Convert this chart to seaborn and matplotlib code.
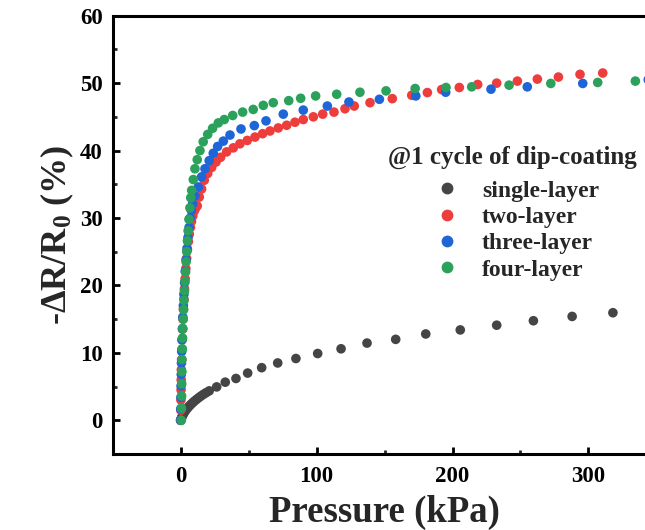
import numpy as np
import pandas as pd
import matplotlib
matplotlib.use("Agg")
import matplotlib.pyplot as plt
import seaborn as sns
from matplotlib.ticker import MultipleLocator

# ---------------- data ----------------
single_x = [0, 0.3, 0.7, 1.2, 1.8, 2.5, 3.3, 4.2, 5.2, 6.3, 7.5, 8.8, 10.2, 11.7, 13.3,
            15.0, 16.8, 18.8, 21.0, 26.5, 32.8, 40.7, 49.3, 59.6, 71.4, 84.8, 100.8,
            118.0, 137.1, 158.2, 180.3, 205.7, 232.5, 259.5, 288.0, 318.0]
single_y = [0, 0.15, 0.35, 0.6, 0.85, 1.1, 1.35, 1.6, 1.85, 2.1, 2.35, 2.6, 2.85, 3.1, 3.35,
            3.6, 3.85, 4.1, 4.36, 4.95, 5.65, 6.2, 7.0, 7.8, 8.5, 9.16, 9.9,
            10.6, 11.45, 12.0, 12.8, 13.4, 14.1, 14.76, 15.4, 15.95]

two_x = [0, 0.1, 0.2, 0.3, 0.4, 0.5, 0.7, 0.9, 1.1, 1.4, 1.7, 2.0, 2.4, 2.8, 3.3, 3.8,
         4.4, 5.0, 5.7, 6.4, 7.2, 8.0, 8.9, 9.9, 10.9, 12.2, 13.7, 15.4, 17.4, 19.9,
         22.8, 26.0, 29.4, 33.8, 38.7, 43.6, 49.0, 54.7, 60.3, 65.7, 71.8, 78.0, 84.1,
         90.2, 97.6, 104.5, 112.8, 120.9, 127.7, 139.3, 155.7, 170.0, 181.5, 192.0,
         205.0, 218.5, 232.5, 247.7, 262.4, 277.9, 293.8, 310.5]
two_y = [0, 1.5, 3.0, 4.5, 6.0, 7.5, 9.0, 10.5, 12.0, 13.5, 15.0, 16.5, 18.0, 19.5, 21.0, 22.5,
         24.0, 25.3, 26.5, 27.6, 28.6, 29.5, 30.3, 31.0, 31.4, 31.8, 33.1, 34.3, 35.6, 36.6,
         37.5, 38.3, 39.0, 39.8, 40.4, 41.0, 41.5, 42.0, 42.5, 42.9, 43.35, 43.75, 44.2,
         44.6, 45.0, 45.4, 45.7, 46.2, 46.6, 47.1, 47.7, 48.2, 48.6, 49.05,
         49.35, 49.8, 50.0, 50.3, 50.6, 50.9, 51.3, 51.5]

three_x = [0, 0.1, 0.2, 0.3, 0.45, 0.6, 0.8, 1.0, 1.3, 1.6, 2.0, 2.4, 2.9, 3.4, 4.0, 4.7,
           5.4, 6.2, 7.0, 7.9, 8.8, 10.5, 13.0, 15.4, 17.9, 21.0, 24.0, 27.2, 31.4, 36.3,
           44.4, 54.2, 62.8, 75.5, 90.2, 107.9, 123.8, 146.2, 173.0, 195.0, 228.3, 255.0,
           295.8, 344.0]
three_y = [0, 1.7, 3.4, 5.1, 6.8, 8.5, 10.2, 11.9, 13.6, 15.3, 17.0, 18.7, 20.4, 22.1, 23.8, 25.5,
           27.1, 28.6, 30.0, 31.1, 32.1, 33.3, 34.6, 36.1, 37.3, 38.5, 39.6, 40.6, 41.4, 42.3,
           43.2, 43.7, 44.4, 45.4, 46.0, 46.6, 47.2, 47.6, 48.1, 48.65, 49.1, 49.45,
           49.95, 50.5]

four_x = [0.5, 0.6, 0.7, 0.8, 0.9, 1.0, 1.2, 1.4, 1.6, 1.9, 2.2, 2.5, 2.8, 3.2, 3.6, 4.0,
          4.5, 5.0, 5.5, 6.1, 6.8, 7.4, 8.1, 9.3, 10.5, 12.2, 14.2, 16.6, 19.9, 23.5, 27.7,
          32.1, 38.3, 45.6, 53.4, 60.8, 68.1, 79.5, 88.3, 99.3, 114.8, 131.9, 151.1,
          172.5, 195.2, 214.1, 241.6, 272.3, 306.8, 334.5]
four_y = [0, 1.8, 3.6, 5.4, 7.2, 9.0, 10.6, 12.2, 13.6, 15.0, 16.4, 17.8, 19.2, 20.6, 22.0, 23.5,
          25.0, 26.6, 28.1, 29.8, 31.5, 33.0, 34.1, 35.7, 37.3, 38.65, 40.0, 41.3, 42.4, 43.3, 44.1,
          44.6, 45.2, 45.7, 46.1, 46.7, 47.1, 47.4, 47.75, 48.1, 48.35, 48.65, 48.85,
          49.2, 49.35, 49.45, 49.7, 49.95, 50.1, 50.3]

labels = ["single-layer", "two-layer", "three-layer", "four-layer"]
colors = ["#454545", "#EE3D3D", "#1E66D8", "#2BA15C"]
legend_title = "@1 cycle of dip-coating"
x_ticks = [0, 100, 200, 300]
y_ticks = [0, 10, 20, 30, 40, 50, 60]

df = pd.concat([
    pd.DataFrame({"x": single_x, "y": single_y, "layer": labels[0]}),
    pd.DataFrame({"x": two_x, "y": two_y, "layer": labels[1]}),
    pd.DataFrame({"x": three_x, "y": three_y, "layer": labels[2]}),
    pd.DataFrame({"x": four_x, "y": four_y, "layer": labels[3]}),
], ignore_index=True)

# ---------------- style ----------------
sns.set_theme(style="ticks")
plt.rcParams["font.family"] = ["Liberation Serif", "DejaVu Serif"]
plt.rcParams["font.weight"] = "bold"
plt.rcParams["axes.labelweight"] = "bold"
plt.rcParams["mathtext.fontset"] = "custom"
plt.rcParams["mathtext.rm"] = "Liberation Serif:bold"
plt.rcParams["mathtext.bf"] = "Liberation Serif:bold"
plt.rcParams["mathtext.it"] = "Liberation Serif:bold"

fig = plt.figure(figsize=(6.45, 5.3), dpi=100)
fig.patch.set_facecolor("white")
ax = fig.add_axes([0.1747, 0.1434, 0.843, 0.827])

sns.scatterplot(data=df, x="x", y="y", hue="layer", hue_order=labels,
                palette=colors, s=48, linewidth=0, alpha=1, ax=ax, legend=True,
                zorder=3)

ax.set_xlim(-50, 350)
ax.set_ylim(-5, 60)
ax.set_xticks(x_ticks)
ax.set_yticks(y_ticks)
ax.xaxis.set_minor_locator(MultipleLocator(50))
ax.set_yticks([v for v in np.arange(5, 60, 10)], minor=True)
ax.tick_params(which="major", direction="in", length=5, width=2.0,
               labelsize=16.5, pad=7, colors="black")
ax.tick_params(which="minor", direction="in", length=3, width=2.0)
ax.tick_params(axis="x", pad=9)
for lab in ax.get_xticklabels() + ax.get_yticklabels():
    lab.set_fontweight("bold")
for sp in ax.spines.values():
    sp.set_linewidth(2.2)
    sp.set_color("black")

ax.set_xlabel("Pressure (kPa)", fontsize=26.5, fontweight="bold", labelpad=5)
ax.set_ylabel(r"-ΔR/R$_\mathbf{0}$ (%)", fontsize=26, fontweight="bold", labelpad=3)

handles, _ = ax.get_legend_handles_labels()
for h in handles:
    h.set_markersize(8.5)
leg = ax.legend(handles, labels, title=legend_title, frameon=False,
                loc="upper left", bbox_to_anchor=(0.583, 0.747),
                bbox_transform=fig.transFigure, prop={"size": 17, "weight": "bold"},
                title_fontproperties={"size": 18, "weight": "bold"},
                labelspacing=0.2, handletextpad=0.6, borderpad=0.0, handlelength=1.8)
leg._legend_box.sep = 8

fig.savefig("out.png", dpi=100, facecolor="white")
